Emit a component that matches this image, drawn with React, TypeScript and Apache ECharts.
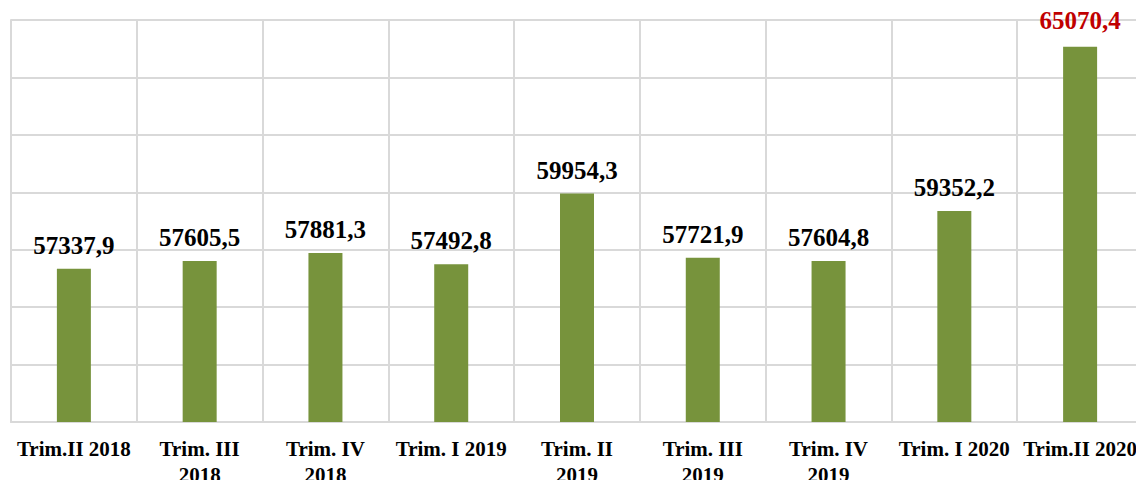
import React, { useEffect, useRef } from "react";
import * as echarts from "echarts";

const categories = [
  "Trim.II 2018",
  "Trim. III\n2018",
  "Trim. IV\n2018",
  "Trim. I 2019",
  "Trim. II\n2019",
  "Trim. III\n2019",
  "Trim. IV\n2019",
  "Trim. I 2020",
  "Trim.II 2020",
];
const values = [57337.9, 57605.5, 57881.3, 57492.8, 59954.3, 57721.9, 57604.8, 59352.2, 65070.4];
const highlightIndex = 8;

export default function App() {
  const ref = useRef<HTMLDivElement>(null);
  useEffect(() => {
    if (!ref.current) return;
    const chart = echarts.init(ref.current, null, { renderer: "svg" });
    const font = "'Liberation Serif', 'DejaVu Serif', serif";
    chart.setOption({
      animation: false,
      grid: { left: 11, right: 1, top: 20, bottom: 58 },
      xAxis: {
        type: "category",
        data: categories,
        boundaryGap: true,
        axisLine: { show: true, lineStyle: { color: "#d9d9d9", width: 2 } },
        axisTick: { show: false },
        splitLine: { show: true, lineStyle: { color: "#d9d9d9", width: 2 } },
        axisLabel: {
          interval: 0,
          margin: 14,
          color: "#000",
          fontFamily: font,
          fontWeight: "bold",
          fontSize: 21,
          lineHeight: 26,
        },
      },
      yAxis: {
        type: "value",
        min: 52000,
        max: 66000,
        interval: 2000,
        axisLine: { show: true, lineStyle: { color: "#d9d9d9", width: 2 } },
        axisTick: { show: false },
        axisLabel: { show: false },
        splitLine: { show: true, lineStyle: { color: "#d9d9d9", width: 2 } },
      },
      series: [
        {
          type: "bar",
          barWidth: 34,
          data: values.map((v, i) => ({
            value: v,
            label: i === highlightIndex ? { color: "#c00000", distance: 14 } : undefined,
          })),
          itemStyle: { color: "#77933c" },
          label: {
            show: true,
            position: "top",
            distance: 11,
            color: "#000",
            fontFamily: font,
            fontWeight: "bold",
            fontSize: 25,
            formatter: (p: any) => p.value.toFixed(1).replace(".", ","),
          },
        },
      ],
    });
    return () => chart.dispose();
  }, []);
  return <div ref={ref} style={{ width: 1144, height: 488, margin: -8 }} />;
}
